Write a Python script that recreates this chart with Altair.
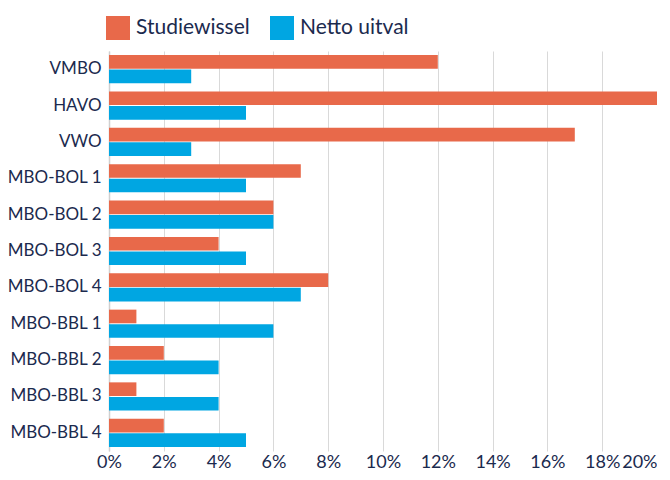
import altair as alt
import pandas as pd

categories = ["VMBO", "HAVO", "VWO", "MBO-BOL 1", "MBO-BOL 2", "MBO-BOL 3",
              "MBO-BOL 4", "MBO-BBL 1", "MBO-BBL 2", "MBO-BBL 3", "MBO-BBL 4"]
studiewissel = [12, 20, 17, 7, 6, 4, 8, 1, 2, 1, 2]
netto_uitval = [3, 5, 3, 5, 6, 5, 7, 6, 4, 4, 5]
series_names = ["Studiewissel", "Netto uitval"]
colors = ["#E8694A", "#00A6E2"]
x_ticks = [0, 0.02, 0.04, 0.06, 0.08, 0.10, 0.12, 0.14, 0.16, 0.18, 0.20]

rows = []
for c, s, n in zip(categories, studiewissel, netto_uitval):
    rows.append({"cat": c, "series": series_names[0], "value": s / 100})
    rows.append({"cat": c, "series": series_names[1], "value": n / 100})
df = pd.DataFrame(rows)

font = "Lato"
text_color = "#1B2A4E"

chart = alt.Chart(df).mark_bar().encode(
    y=alt.Y("cat:N", sort=categories, title=None,
            scale=alt.Scale(paddingInner=0.225, paddingOuter=0.1125),
            axis=alt.Axis(labelFont=font, labelFontSize=17, labelColor=text_color,
                          ticks=False, domain=True, domainColor="#D0D0D0",
                          domainWidth=1.5, labelPadding=8, grid=False)),
    yOffset=alt.YOffset("series:N", sort=series_names,
                        scale=alt.Scale(paddingInner=0.06)),
    x=alt.X("value:Q", title=None,
            scale=alt.Scale(domain=[0, 0.2], nice=False),
            axis=alt.Axis(format=".0%", values=x_ticks, grid=True,
                          gridColor="#D9D9D9", gridWidth=1, domain=False,
                          ticks=False, labelFont=font, labelFontSize=18,
                          labelColor=text_color, labelPadding=2,
                          labelOverlap=False,
                          labelAlign={"expr": "datum.value >= 0.2 ? 'right' : 'center'"})),
    color=alt.Color("series:N", sort=series_names,
                    scale=alt.Scale(domain=series_names, range=colors),
                    legend=alt.Legend(orient="none", legendX=-3, legendY=-35,
                                      direction="horizontal", title=None,
                                      symbolType="square", symbolSize=576,
                                      symbolStrokeWidth=0, symbolOpacity=1,
                                      labelFont=font, labelFontSize=21,
                                      labelColor=text_color, labelOffset=6,
                                      columnPadding=20, padding=0)),
).properties(
    width=548, height=400,
    autosize=alt.AutoSizeParams(type="none"),
    padding={"left": 101, "top": 43, "right": 0, "bottom": 21},
).configure_view(stroke=None)

chart.save("out.html", embed_options={"renderer": "svg", "actions": False})
